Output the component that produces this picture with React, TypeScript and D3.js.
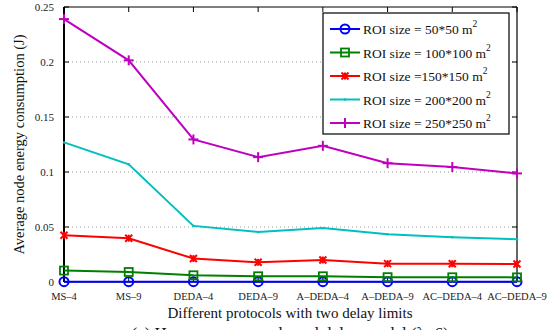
import React from "react";
import * as d3 from "d3";

// protocols on the x axis
const protocols = ["MS–4", "MS–9", "DEDA–4", "DEDA–9", "A–DEDA–4", "A–DEDA–9", "AC–DEDA–4", "AC–DEDA–9"];

const roi50 = [0.0003, 0.0003, 0.0003, 0.0003, 0.0003, 0.0003, 0.0003, 0.0003];
const roi100 = [0.0104, 0.0091, 0.0061, 0.0052, 0.0052, 0.0044, 0.0043, 0.0042];
const roi150 = [0.0425, 0.0398, 0.0213, 0.0179, 0.0200, 0.0167, 0.0166, 0.0164];
const roi200 = [0.1269, 0.1070, 0.0510, 0.0455, 0.0490, 0.0434, 0.0407, 0.0389];
const roi250 = [0.2390, 0.2015, 0.1296, 0.1135, 0.1238, 0.1080, 0.1045, 0.0987];

const yTicks = [0, 0.05, 0.1, 0.15, 0.2, 0.25];

interface Series {
    name: string;
    values: number[];
    color: string;
    marker: "circle" | "square" | "star" | "point" | "plus";
}

const series: Series[] = [
    { name: "ROI size = 50*50 m", values: roi50, color: "#0000ff", marker: "circle" },
    { name: "ROI size = 100*100 m", values: roi100, color: "#008000", marker: "square" },
    { name: "ROI size =150*150 m", values: roi150, color: "#ff0000", marker: "star" },
    { name: "ROI size = 200*200 m", values: roi200, color: "#00bfbf", marker: "point" },
    { name: "ROI size = 250*250 m", values: roi250, color: "#bf00bf", marker: "plus" },
];

const font = "'Times New Roman', Times, 'Liberation Serif', 'Nimbus Roman', Tinos, 'DejaVu Serif', 'Noto Serif', serif";

const Marker = ({ kind, x, y, color }: { kind: string; x: number; y: number; color: string }) => {
    if (kind === "circle") return <circle cx={x} cy={y} r={4.5} fill="none" stroke={color} strokeWidth={2} />;
    if (kind === "square") return <rect x={x - 4} y={y - 4} width={8} height={8} fill="none" stroke={color} strokeWidth={1.8} />;
    if (kind === "star") {
        const s = 3.5;
        return (
            <g stroke={color} strokeWidth={2}>
                <line x1={x - s} y1={y - s} x2={x + s} y2={y + s} />
                <line x1={x - s} y1={y + s} x2={x + s} y2={y - s} />
                <line x1={x} y1={y - s} x2={x} y2={y + s} />
            </g>
        );
    }
    if (kind === "plus") {
        const s = 5;
        return (
            <g stroke={color} strokeWidth={2}>
                <line x1={x - s} y1={y} x2={x + s} y2={y} />
                <line x1={x} y1={y - s} x2={x} y2={y + s} />
            </g>
        );
    }
    return <circle cx={x} cy={y} r={1.2} fill={color} />;
};

export default function App() {
    const width = 550;
    const height = 330;
    const margin = { left: 64, right: 33, top: 7, bottom: 48 };

    const x = d3.scalePoint<string>()
        .domain(protocols)
        .range([margin.left, width - margin.right]);
    const y = d3.scaleLinear()
        .domain([0, 0.25])
        .range([height - margin.bottom, margin.top]);

    const line = d3.line<number>()
        .x((_, i) => x(protocols[i])!)
        .y(d => y(d));

    const x0 = margin.left;
    const x1 = width - margin.right;
    const yTop = margin.top;
    const yBot = height - margin.bottom;

    // legend geometry
    const lg = { x: 323, y: 13, w: 186, h: 121 };

    return (
        <svg width={width} height={height} style={{ position: "absolute", left: 0, top: 0, background: "#fff", fontFamily: font }}>
            {/* dotted grid */}
            {yTicks.filter(t => t > 0 && t < 0.25).map(t => (
                <line key={t} x1={x0} x2={x1} y1={y(t)} y2={y(t)} stroke="#999" strokeWidth={1} strokeDasharray="1,3" />
            ))}
            {/* frame */}
            <line x1={x0} x2={x1} y1={yTop} y2={yTop} stroke="#000" strokeWidth={1.2} />
            <line x1={x1} x2={x1} y1={yTop} y2={yBot} stroke="#000" strokeWidth={1.2} />
            <line x1={x0} x2={x1} y1={yBot} y2={yBot} stroke="#000" strokeWidth={1.2} />
            <line x1={x0} x2={x0} y1={yTop} y2={yBot} stroke="#000" strokeWidth={2} />
            {/* ticks */}
            {protocols.map(p => (
                <g key={p}>
                    <line x1={x(p)} x2={x(p)} y1={yTop} y2={yTop + 5} stroke="#000" />
                    <line x1={x(p)} x2={x(p)} y1={yBot} y2={yBot - 5} stroke="#000" />
                    <text x={x(p)} y={yBot + 18} fontSize={10.5} textAnchor="middle" fill="#222">{p}</text>
                </g>
            ))}
            {yTicks.map(t => (
                <g key={t}>
                    <line x1={x1} x2={x1 - 5} y1={y(t)} y2={y(t)} stroke="#000" />
                    <line x1={x0} x2={x0 + 5} y1={y(t)} y2={y(t)} stroke="#000" />
                    <text x={54} y={y(t) + 4} fontSize={11} textAnchor="end" fill="#222">{t}</text>
                </g>
            ))}
            {/* series */}
            {series.map(s => (
                <g key={s.name}>
                    <path d={line(s.values) || ""} fill="none" stroke={s.color} strokeWidth={2} />
                    {s.values.map((v, i) => (
                        <Marker key={i} kind={s.marker} x={x(protocols[i])!} y={y(v)} color={s.color} />
                    ))}
                </g>
            ))}
            {/* legend */}
            <rect x={lg.x} y={lg.y} width={lg.w} height={lg.h} fill="#fff" stroke="#000" strokeWidth={1.2} />
            {series.map((s, i) => {
                const ly = lg.y + 16 + i * 23.5;
                return (
                    <g key={s.name}>
                        <line x1={lg.x + 7} x2={lg.x + 37} y1={ly} y2={ly} stroke={s.color} strokeWidth={2} />
                        <Marker kind={s.marker} x={lg.x + 22} y={ly} color={s.color} />
                        <text x={lg.x + 40} y={ly + 5} fontSize={13.5} fill="#111">
                            {s.name}
                            <tspan fontSize={9.5} dy={-7}>2</tspan>
                        </text>
                    </g>
                );
            })}
            {/* axis labels */}
            <text x={290} y={318} fontSize={15} textAnchor="middle" fill="#111">Different protocols with two delay limits</text>
            <text transform={`translate(24,${(yTop + yBot) / 2}) rotate(-90)`} fontSize={14.5} textAnchor="middle" fill="#111">
                Average node energy consumption (J)
            </text>
            <text x={290} y={339} fontSize={17} textAnchor="middle" fill="#111">(a) Homogeneous node and delay model (λ=6)</text>
        </svg>
    );
}
